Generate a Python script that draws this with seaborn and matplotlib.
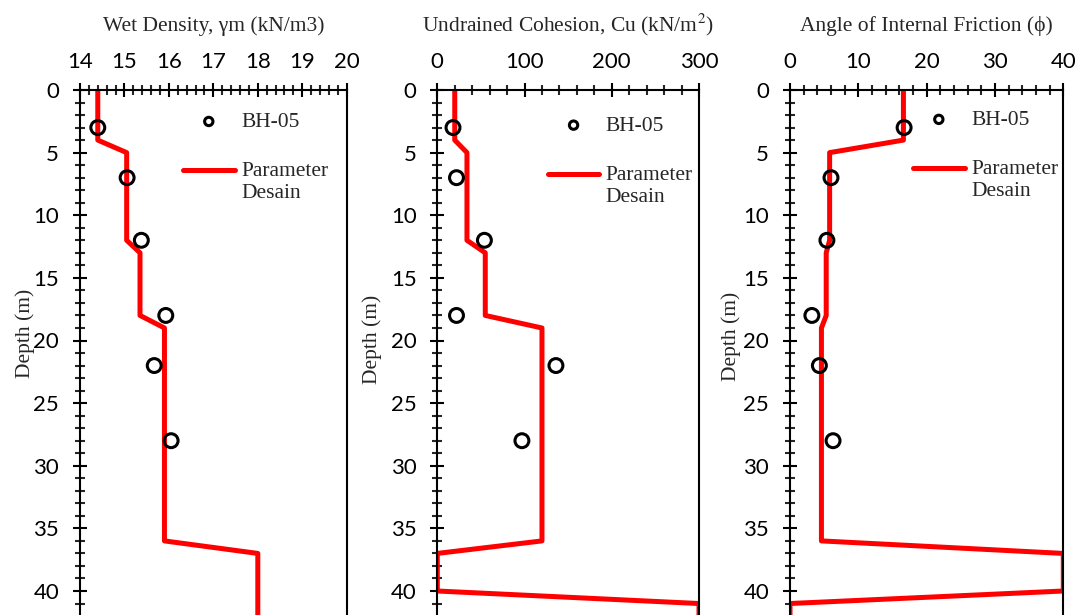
import matplotlib
matplotlib.use('Agg')
import matplotlib.pyplot as plt
import seaborn as sns
from matplotlib.ticker import MultipleLocator
from matplotlib.lines import Line2D
from matplotlib.legend_handler import HandlerLine2D

# Data bor BH-05 (nilai uji)
depth_bh = [3, 7, 12, 18, 22, 28]
density_bh = [14.4, 15.06, 15.38, 15.93, 15.67, 16.05]
cohesion_bh = [18, 22, 54, 22, 136, 97]
friction_bh = [16.7, 6.0, 5.4, 3.2, 4.3, 6.3]

# Parameter desain
depth_design = [0, 4, 5, 12, 13, 18, 19, 36, 37, 40, 41, 42]
density_design = [14.4, 14.4, 15.05, 15.05, 15.35, 15.35, 15.9, 15.9, 18, 18, 18, 18]
cohesion_design = [20, 20, 34, 34, 55, 55, 120, 120, 0, 0, 300, 300]
friction_design = [16.6, 16.6, 5.8, 5.8, 5.3, 5.3, 4.6, 4.6, 40, 40, 0, 0]

titles = ['Wet Density, \u03b3m (kN/m3)',
          'Undrained Cohesion, Cu (kN/m$^2$)',
          'Angle of Internal Friction (\u03d5)']


class TopLine(HandlerLine2D):
    # garis legenda sejajar baris pertama label (gaya Excel)
    def create_artists(self, legend, orig_handle, xdescent, ydescent,
                       width, height, fontsize, trans):
        arts = super().create_artists(legend, orig_handle, xdescent, ydescent,
                                      width, height, fontsize, trans)
        for a in arts:
            a.set_ydata([y + 0.55 * fontsize for y in a.get_ydata()])
        return arts


sns.set_style('ticks')
plt.rcParams['font.family'] = ['Liberation Serif', 'DejaVu Serif']
plt.rcParams['mathtext.fontset'] = 'stix'

fig = plt.figure(figsize=(10.83, 6.15), dpi=100)

panels = [
    # (left, width, xdesign, xbh, xlim, major, minor, ylabel coords, legend anchor)
    (80, 266.7, density_design, density_bh, (14, 20), 1, 0.2, (-0.17, 0.536), (0.386, 0.958)),
    (437.3, 261.7, cohesion_design, cohesion_bh, (0, 300), 100, 20, (-0.21, 0.525), (0.422, 0.951)),
    (790, 273.3, friction_design, friction_bh, (0, 40), 10, 2, (-0.18, 0.531), (0.45, 0.962)),
]

for i, (left, width, xd, xb, xlim, major, minor, lab, leg) in enumerate(panels):
    ax = fig.add_axes([left / 1083, 0, width / 1083, 525 / 615])
    sns.lineplot(x=xd, y=depth_design, sort=False, estimator=None, color='red',
                 lw=3.6, label='Parameter\nDesain', ax=ax)
    sns.scatterplot(x=xb, y=depth_bh, marker='o', s=100, facecolor='none',
                    edgecolor='black', linewidth=2.2, label='BH-05', ax=ax, zorder=3)

    ax.set_xlim(*xlim)
    ax.set_ylim(525 / 12.525, 0)
    ax.xaxis.tick_top()
    ax.xaxis.set_label_position('top')
    ax.xaxis.set_major_locator(MultipleLocator(major))
    ax.xaxis.set_minor_locator(MultipleLocator(minor))
    ax.yaxis.set_major_locator(MultipleLocator(5))
    ax.yaxis.set_minor_locator(MultipleLocator(1))

    for s in ['top', 'left', 'right']:
        ax.spines[s].set_visible(True)
        ax.spines[s].set_linewidth(1.5)
        ax.spines[s].set_color('black')
    ax.spines['bottom'].set_visible(False)

    ax.tick_params(axis='both', which='major', direction='inout', length=10, width=1.5,
                   labelsize=16, labelfontfamily='Lato', colors='black')
    ax.tick_params(axis='both', which='minor', direction='inout', length=6.5, width=1.5)
    ax.tick_params(axis='x', which='both', top=True, bottom=False, pad=8)
    ax.tick_params(axis='y', which='both', left=True, right=False, pad=10)

    ax.set_xlabel(titles[i], fontsize=15.5, labelpad=15)
    ax.set_ylabel('Depth (m)', fontsize=15.5)
    ax.yaxis.set_label_coords(*lab)

    handles, labels = ax.get_legend_handles_labels()
    ax.legend(handles[::-1], labels[::-1], loc='upper left', bbox_to_anchor=leg,
              frameon=False, fontsize=15.5, markerscale=0.6, handlelength=2.4,
              handletextpad=0.3, labelspacing=1.4, borderpad=0, borderaxespad=0,
              handler_map={Line2D: TopLine()})

fig.savefig('out.png', dpi=100)
